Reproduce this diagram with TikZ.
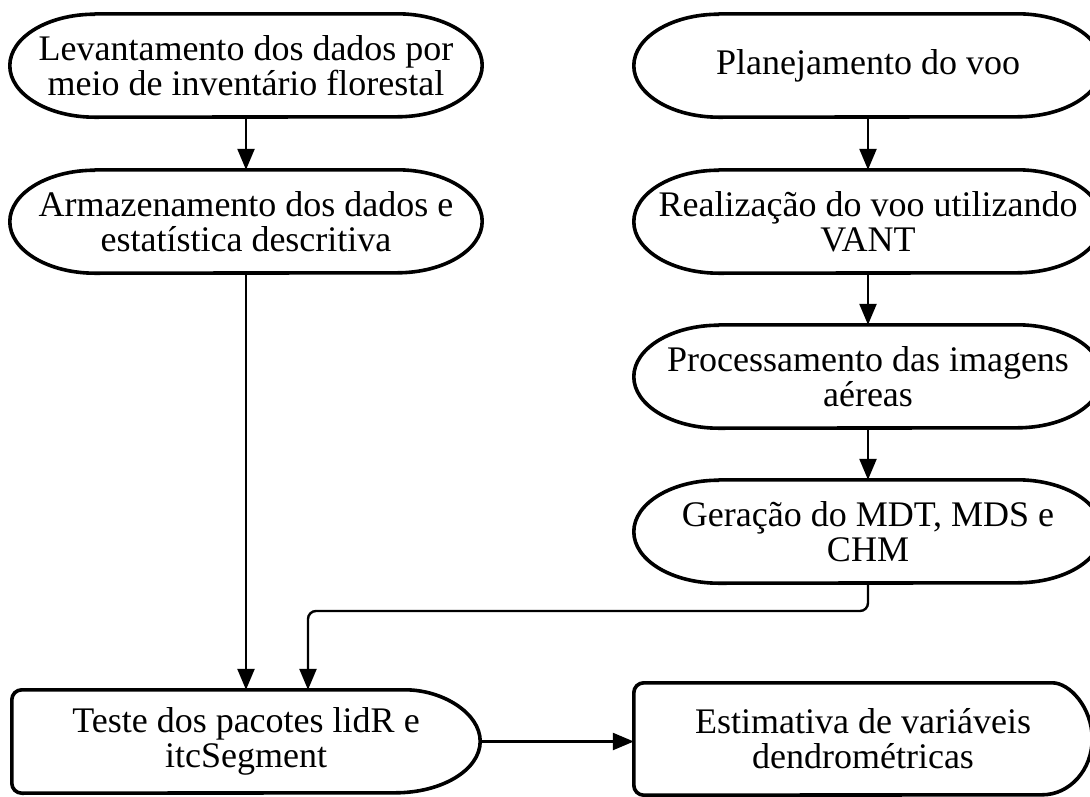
\documentclass[tikz,border=0pt]{standalone}
\usepackage{fontspec}
\setmainfont{Liberation Serif}
\usetikzlibrary{arrows.meta}
\tikzset{
  boxtext/.style={rectangle, inner sep=0pt, align=center,
    font=\fontsize{36pt}{35pt}\selectfont, text=black},
  border/.style={draw=black, line width=3.6pt, line join=round},
  arr/.style={draw=black, line width=2.4pt, -{Triangle[length=21pt,width=17pt]}},
}
% stadium: node name, x radius, y radius
\newcommand\mystadium[3]{%
  \draw[border] ([xshift=#2]#1.north west) -- ([xshift=-#2]#1.north east)
    arc[start angle=90, end angle=-90, x radius=#2, y radius=#3]
    -- ([xshift=#2]#1.south west)
    arc[start angle=270, end angle=90, x radius=#2, y radius=#3] -- cycle;}
% delay shape: rounded left corners, elliptic right side
\newcommand\mydelay[3]{%
  \draw[border] ([xshift=-#2]#1.north east)
    arc[start angle=90, end angle=-90, x radius=#2, y radius=#3]
    [rounded corners=10pt] -- (#1.south west) -- (#1.north west) -- cycle;}
\begin{document}
\begin{tikzpicture}[x=1pt, y=-1pt]
  \useasboundingbox (0,0) rectangle (1090,796);
  \clip (0,0) rectangle (1090,796);
  % left column
  \node[boxtext, minimum width=472pt, minimum height=103pt] (lev) at (246,65.5)
    {Levantamento dos dados por\\meio de inventário florestal};
  \node[boxtext, minimum width=472pt, minimum height=103pt] (arm) at (246,221.5)
    {Armazenamento dos dados e\\estatística descritiva};
  % right column
  \node[boxtext, minimum width=468pt, minimum height=103pt] (pla) at (868,65.5)
    {Planejamento do voo};
  \node[boxtext, minimum width=468pt, minimum height=103pt] (rea) at (868,221.5)
    {Realização do voo utilizando\\VANT};
  \node[boxtext, minimum width=468pt, minimum height=103pt] (pro) at (868,376.5)
    {Processamento das imagens\\aéreas};
  \node[boxtext, minimum width=468pt, minimum height=103pt] (ger) at (868,531.5)
    {Geração do MDT, MDS e\\CHM};
  % bottom row
  \node[boxtext, minimum width=468pt, minimum height=103pt] (tes) at (246,741.5)
    {Teste dos pacotes lidR e\\itcSegment};
  \node[boxtext, minimum width=458pt, minimum height=112pt] (est) at (863,739)
    {Estimativa de variáveis\\dendrométricas};
  % borders
  \mystadium{lev}{85pt}{51.5pt}
  \mystadium{arm}{85pt}{51.5pt}
  \mystadium{pla}{85pt}{51.5pt}
  \mystadium{rea}{85pt}{51.5pt}
  \mystadium{pro}{85pt}{51.5pt}
  \mystadium{ger}{85pt}{51.5pt}
  \mydelay{tes}{85pt}{51.5pt}
  \mydelay{est}{50pt}{56pt}
  % connectors
  \draw[arr] (lev.south) -- (arm.north);
  \draw[arr] (pla.south) -- (rea.north);
  \draw[arr] (rea.south) -- (pro.north);
  \draw[arr] (pro.south) -- (ger.north);
  \draw[arr] (arm.south) -- (tes.north);
  \coordinate (bend) at (308,611);
  \draw[arr, rounded corners=8pt] (ger.south) |- (bend) -- (bend |- tes.north);
  \draw[arr] (tes.east) -- (tes.east -| est.west);
\end{tikzpicture}
\end{document}
